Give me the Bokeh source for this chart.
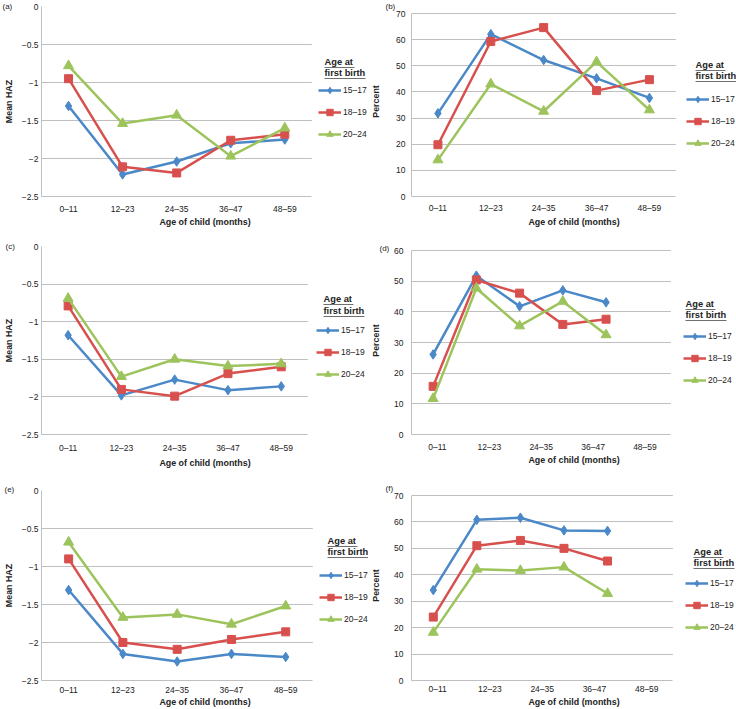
from bokeh.plotting import figure
from bokeh.models import (Range1d, LinearAxis, FixedTicker, Legend, LegendItem, Label, Title,
                          BoxAnnotation, CustomJSTickFormatter)
from bokeh.layouts import gridplot
from bokeh.embed import file_html
from bokeh.resources import INLINE

# ---------------- data ----------------
ages = ["0–11", "12–23", "24–35", "36–47", "48–59"]
groups = ["15–17", "18–19", "20–24"]
haz_ticks = [-2.5, -2.0, -1.5, -1.0, -0.5, 0.0]
pct70_ticks = [0, 10, 20, 30, 40, 50, 60, 70]
pct60_ticks = [0, 10, 20, 30, 40, 50, 60]

a_15_17 = [-1.31, -2.21, -2.04, -1.80, -1.75]
a_18_19 = [-0.95, -2.11, -2.19, -1.76, -1.68]
a_20_24 = [-0.78, -1.54, -1.43, -1.97, -1.60]

b_15_17 = [31.8, 62.1, 52.2, 45.2, 37.7]
b_18_19 = [19.8, 59.3, 64.6, 40.5, 44.7]
b_20_24 = [14.0, 43.0, 32.6, 51.5, 33.1]

c_15_17 = [-1.18, -1.98, -1.77, -1.91, -1.86]
c_18_19 = [-0.79, -1.90, -1.99, -1.69, -1.60]
c_20_24 = [-0.69, -1.73, -1.50, -1.59, -1.56]

d_15_17 = [26.1, 51.8, 41.8, 47.0, 43.1]
d_18_19 = [15.7, 50.4, 46.1, 35.9, 37.6]
d_20_24 = [11.7, 47.7, 35.4, 43.4, 32.5]

e_15_17 = [-1.31, -2.15, -2.25, -2.15, -2.19]
e_18_19 = [-0.90, -2.00, -2.09, -1.96, -1.86]
e_20_24 = [-0.68, -1.67, -1.63, -1.76, -1.52]

f_15_17 = [34.2, 60.8, 61.6, 56.8, 56.6]
f_18_19 = [24.0, 51.0, 53.0, 50.0, 45.2]
f_20_24 = [18.2, 42.1, 41.6, 42.9, 32.9]

# ---------------- style ----------------
FONT = "Liberation Sans"
TXT = "#222222"
GRID = "#bfbfbf"
colors = ["#4A88C8", "#D8504E", "#9DC45C"]
markers = ["diamond", "square", "triangle"]
msizes = [9.5, 8.0, 10.0]

# row geometry (px): height, frame top, frame bottom ; column: frame left ; column width
ROWS = [dict(h=235, T=6, fb=196), dict(h=235, T=11, fb=199), dict(h=239, T=20, fb=210)]
COLS = [39, 41]
CW = 368

panels = [
    dict(tag="(a)", series=[a_15_17, a_18_19, a_20_24], ylabel="Mean HAZ", ticks=haz_ticks, yr=(-2.5, 0), slots=5,
         r=0, c=0, ctop=6, cright=311, tagx=0, tstd=-8, tx=322, ty=(61, 72), gl=316, g0=90,
         ys=(3, 5), xs=(7, 0)),
    dict(tag="(b)", series=[b_15_17, b_18_19, b_20_24], ylabel="Percent", ticks=pct70_ticks, yr=(0, 70), slots=5,
         r=0, c=1, ctop=13, cright=307, tagx=15, tstd=-8, tx=325, ty=(64, 75), gl=316, g0=99,
         ys=(6, 12), xs=(6, 1)),
    dict(tag="(c)", series=[c_15_17, c_18_19, c_20_24], ylabel="Mean HAZ", ticks=haz_ticks, yr=(-2.5, 0), slots=5,
         r=1, c=0, ctop=11, cright=307, tagx=3, tstd=-9, tx=321, ty=(63, 75), gl=314, g0=95,
         ys=(3, 5), xs=(8, 2)),
    dict(tag="(d)", series=[d_15_17, d_18_19, d_20_24], ylabel="Percent", ticks=pct60_ticks, yr=(0, 60), slots=6,
         r=1, c=1, ctop=15, cright=302, tagx=9, tstd=-12, tx=315, ty=(68, 79), gl=313, g0=101,
         ys=(8, 10), xs=(7, 0)),
    dict(tag="(e)", series=[e_15_17, e_18_19, e_20_24], ylabel="Mean HAZ", ticks=haz_ticks, yr=(-2.5, 0), slots=5,
         r=2, c=0, ctop=20, cright=312, tagx=2, tstd=-7, tx=325, ty=(70, 81), gl=317, g0=105,
         ys=(3, 5), xs=(4, -1)),
    dict(tag="(f)", series=[f_15_17, f_18_19, f_20_24], ylabel="Percent", ticks=pct70_ticks, yr=(0, 70), slots=6,
         r=2, c=1, ctop=25, cright=304, tagx=15, tstd=-5, tx=323, ty=(81, 92), gl=315, g0=113,
         ys=(8, 10), xs=(3, 0)),
]

GH = 16
SP = 6

haz_fmt = "return tick < 0 ? '\\u2212' + String(Math.abs(tick)) : String(tick);"


def style_axis(ax, std):
    ax.axis_label_text_font = FONT
    ax.axis_label_text_font_style = "bold"
    ax.axis_label_text_font_size = "8.9px"
    ax.axis_label_text_color = TXT
    ax.axis_label_standoff = std[1]
    ax.axis_label_text_line_height = 1.0
    ax.major_label_text_font = FONT
    ax.major_label_text_font_size = "8.5px"
    ax.major_label_text_color = TXT
    ax.major_label_standoff = std[0]
    ax.major_label_text_line_height = 1.0
    ax.major_tick_line_color = None
    ax.minor_tick_line_color = None
    ax.major_tick_out = 0
    ax.major_tick_in = 0
    ax.minor_tick_out = 0
    ax.minor_tick_in = 0
    ax.axis_line_color = GRID


def make_panel(s):
    rw = ROWS[s["r"]]
    L = COLS[s["c"]]
    h, T, fb = rw["h"], rw["T"], rw["fb"]
    B = h - fb
    Wf = CW - L                       # frame width (to the canvas edge)
    Wc = s["cright"] - L              # width of the chart area
    Hf = fb - T
    Hc = fb - s["ctop"]
    lo, hi = s["yr"]
    slots = s["slots"]
    x_end = slots * Wf / Wc
    y_top = lo + (hi - lo) * Hf / Hc

    p = figure(width=CW, height=h, x_range=Range1d(0, x_end), y_range=Range1d(lo, y_top),
               x_axis_location=None, output_backend="svg", toolbar_location=None,
               min_border_left=L, min_border_right=0, min_border_top=T, min_border_bottom=B)
    p.outline_line_color = None
    p.xgrid.visible = False

    # x axis: category labels centred in their slots
    lab_pos = [(i + 0.5) * slots / len(ages) for i in range(len(ages))]
    xax = LinearAxis(ticker=FixedTicker(ticks=lab_pos),
                     formatter=CustomJSTickFormatter(args=dict(labels=ages), code="return labels[index];"),
                     bounds=(0, slots), axis_label="Age of child (months)")
    style_axis(xax, s["xs"])
    p.add_layout(xax, "below")

    yax = p.yaxis[0]
    yax.ticker = FixedTicker(ticks=s["ticks"])
    yax.bounds = (lo, hi)
    if s["ylabel"] == "Mean HAZ":
        yax.formatter = CustomJSTickFormatter(code=haz_fmt)
    yax.axis_label = s["ylabel"]
    style_axis(yax, s["ys"])
    p.ygrid.grid_line_color = GRID
    p.ygrid.grid_line_width = 1

    # keep the area right of the chart (legend area) free of grid lines
    p.add_layout(BoxAnnotation(left=slots, right=x_end, bottom=lo, top=y_top, level="underlay",
                               fill_color="white", fill_alpha=1, line_color=None))

    xs = [i + 0.5 for i in range(len(ages))]
    items = []
    for vals, name, col, mk, ms in zip(s["series"], groups, colors, markers, msizes):
        lr = p.line(xs, vals, line_color=col, line_width=2.5)
        sr = p.scatter(xs, vals, marker=mk, size=ms, fill_color=col, line_color=col)
        items.append(LegendItem(label=name, renderers=[lr, sr]))

    leg_bottom = s["g0"] + 2 * (GH + SP) + GH / 2
    leg = Legend(items=items, location=(s["gl"] - L, fb - leg_bottom),
                 orientation="vertical", padding=0, margin=0, spacing=SP,
                 glyph_width=23, glyph_height=GH, label_height=GH, label_standoff=2,
                 border_line_color=None, background_fill_alpha=0,
                 label_text_font=FONT, label_text_font_size="8.5px", label_text_color=TXT)
    p.add_layout(leg)
    for txt, yc, wdt in zip(["Age at", "first birth"], s["ty"], [30, 41]):
        p.add_layout(Label(x=s["tx"] - L, y=fb - yc, x_units="screen", y_units="screen", text=txt,
                           text_font=FONT, text_font_style="bold", text_font_size="9.3px",
                           text_color=TXT, text_baseline="middle", text_align="left"))
        p.add_layout(BoxAnnotation(left=s["tx"] - L, right=s["tx"] - L + wdt,
                                   top=fb - (yc + 5.5), bottom=fb - (yc + 6.5),
                                   left_units="screen", right_units="screen",
                                   top_units="screen", bottom_units="screen",
                                   fill_color="#707070", fill_alpha=1, line_color=None))

    p.add_layout(Title(text=s["tag"], align="left", offset=s["tagx"] - L, standoff=s["tstd"],
                       text_font=FONT, text_font_size="8px", text_font_style="normal",
                       text_color=TXT), "above")
    return p


figs = [make_panel(s) for s in panels]
grid = gridplot([[figs[0], figs[1]], [figs[2], figs[3]], [figs[4], figs[5]]],
                toolbar_location=None)

open("out.html", "w").write(file_html(grid, INLINE))
